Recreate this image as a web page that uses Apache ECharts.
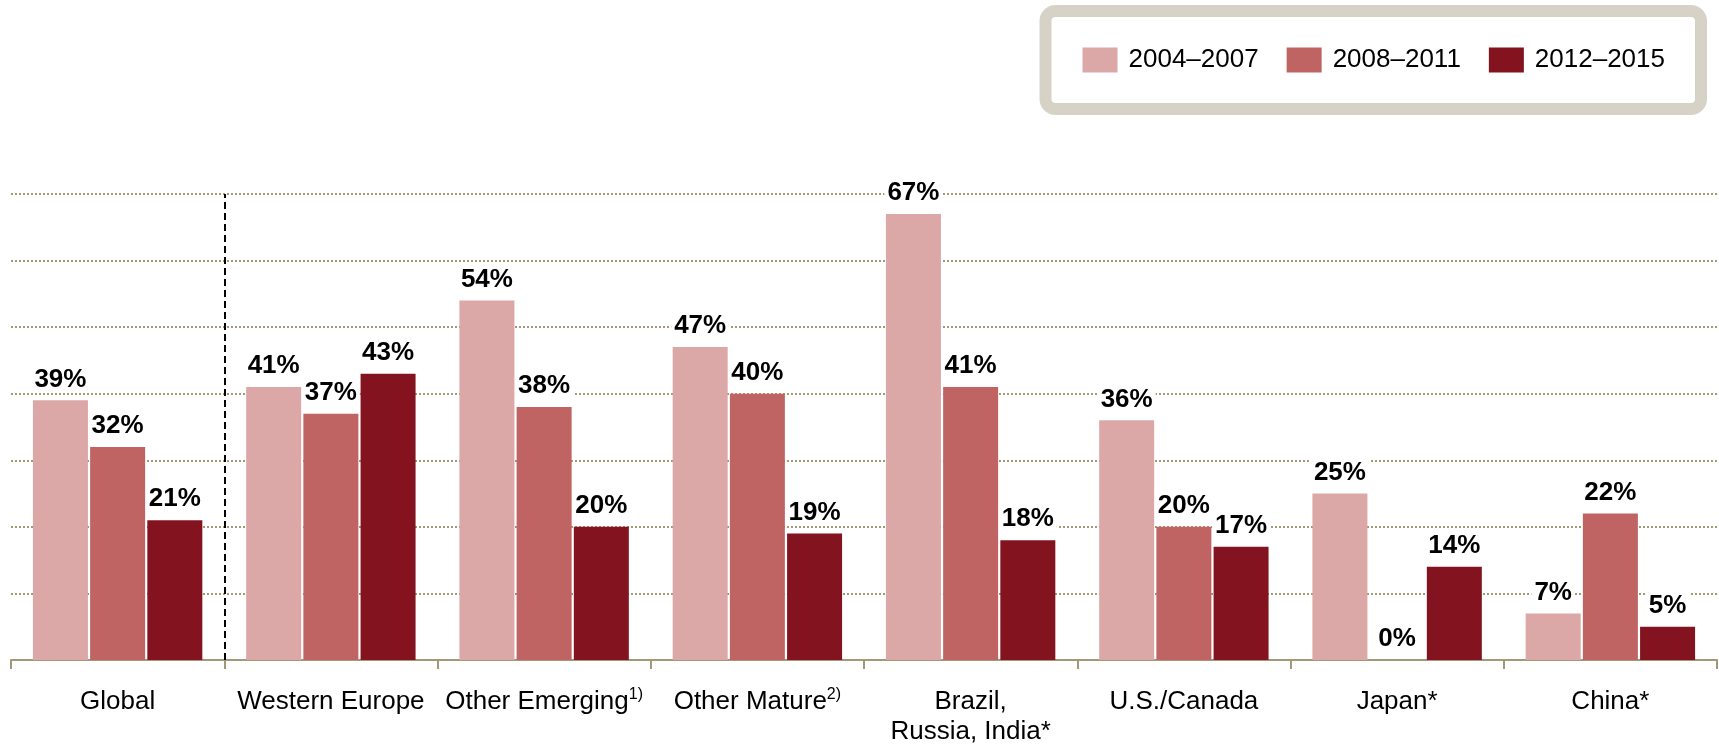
<!DOCTYPE html>
<html>
<head>
<meta charset="utf-8">
<script src="https://cdn.jsdelivr.net/npm/echarts@6/dist/echarts.min.js"></script>
<style>
  html, body { margin: 0; padding: 0; background: #fff; }
  #chart { width: 1719px; height: 747px; }
</style>
</head>
<body>
<div id="chart"></div>
<script>
// regions on the x axis
var categories = ['Global', 'Western Europe', 'Other Emerging', 'Other Mature',
    'Brazil,\nRussia, India*', 'U.S./Canada', 'Japan*', 'China*'];
var footnotes = ['', '', '1)', '2)', '', '', '', ''];

// growth share per period, %
var p2004 = [39, 41, 54, 47, 67, 36, 25, 7];
var p2008 = [32, 37, 38, 40, 41, 20, 0, 22];
var p2012 = [21, 43, 20, 19, 18, 17, 14, 5];

var seriesNames = ['2004\u20132007', '2008\u20132011', '2012\u20132015'];
var colors = ['#dba7a7', '#bf6462', '#83141f'];

var font = '"Liberation Sans", Arial, sans-serif';
var gridColor = '#a39878';

var chart = echarts.init(document.getElementById('chart'));

function barSeries(name, data, color) {
    return {
        name: name,
        type: 'bar',
        data: data,
        barWidth: 55,
        barGap: '4%',
        itemStyle: { color: color },
        label: {
            show: true,
            position: 'top',
            distance: 8,
            formatter: '{c}%',
            fontFamily: font,
            fontSize: 26,
            fontWeight: 'bold',
            color: '#000',
            backgroundColor: '#fff',
            padding: [0, 3]
        }
    };
}

var option = {
    animation: false,
    textStyle: { fontFamily: font },
    color: colors,
    legend: {
        data: seriesNames,
        right: 18,
        top: 11,
        orient: 'horizontal',
        icon: 'rect',
        itemWidth: 35,
        itemHeight: 25,
        itemGap: 28,
        padding: [36, 36, 36, 37],
        backgroundColor: '#fff',
        borderColor: '#d6d2c6',
        borderWidth: 12,
        borderRadius: 10,
        textStyle: {
            fontFamily: font,
            fontSize: 26,
            color: '#000',
            padding: [0, 0, 0, 6]
        }
    },
    grid: { left: 11, right: 2, top: 194, bottom: 87 },
    xAxis: [{
        type: 'category',
        data: categories,
        axisLine: { lineStyle: { color: gridColor, width: 2 } },
        axisTick: { show: true, length: 9, lineStyle: { color: gridColor, width: 2 } },
        axisLabel: {
            interval: 0,
            margin: 27,
            fontFamily: font,
            fontSize: 26,
            lineHeight: 30,
            color: '#000',
            formatter: function (v, i) {
                return footnotes[i] ? v + '{sup|' + footnotes[i] + '}' : v;
            },
            rich: {
                sup: { fontFamily: font, fontSize: 16, lineHeight: 24, verticalAlign: 'top', color: '#000' }
            }
        },
        splitLine: { show: false }
    }, {
        // helper axis, only used to place the dashed separator on a category boundary
        type: 'value',
        min: 0,
        max: categories.length,
        show: false
    }],
    yAxis: {
        type: 'value',
        min: 0,
        max: 70,
        interval: 10,
        axisLine: { show: false },
        axisTick: { show: false },
        axisLabel: { show: false },
        splitLine: { lineStyle: { color: gridColor, width: 2, type: [2, 2] } }
    },
    series: [
        barSeries(seriesNames[0], p2004, colors[0]),
        barSeries(seriesNames[1], p2008, colors[1]),
        barSeries(seriesNames[2], p2012, colors[2]),
        {
            name: 'separator',
            type: 'line',
            xAxisIndex: 1,
            data: [],
            silent: true,
            markLine: {
                silent: true,
                symbol: 'none',
                label: { show: false },
                lineStyle: { color: '#000', width: 2, type: [7, 4] },
                data: [{ xAxis: 1 }]
            }
        }
    ]
};

chart.setOption(option);
</script>
</body>
</html>
